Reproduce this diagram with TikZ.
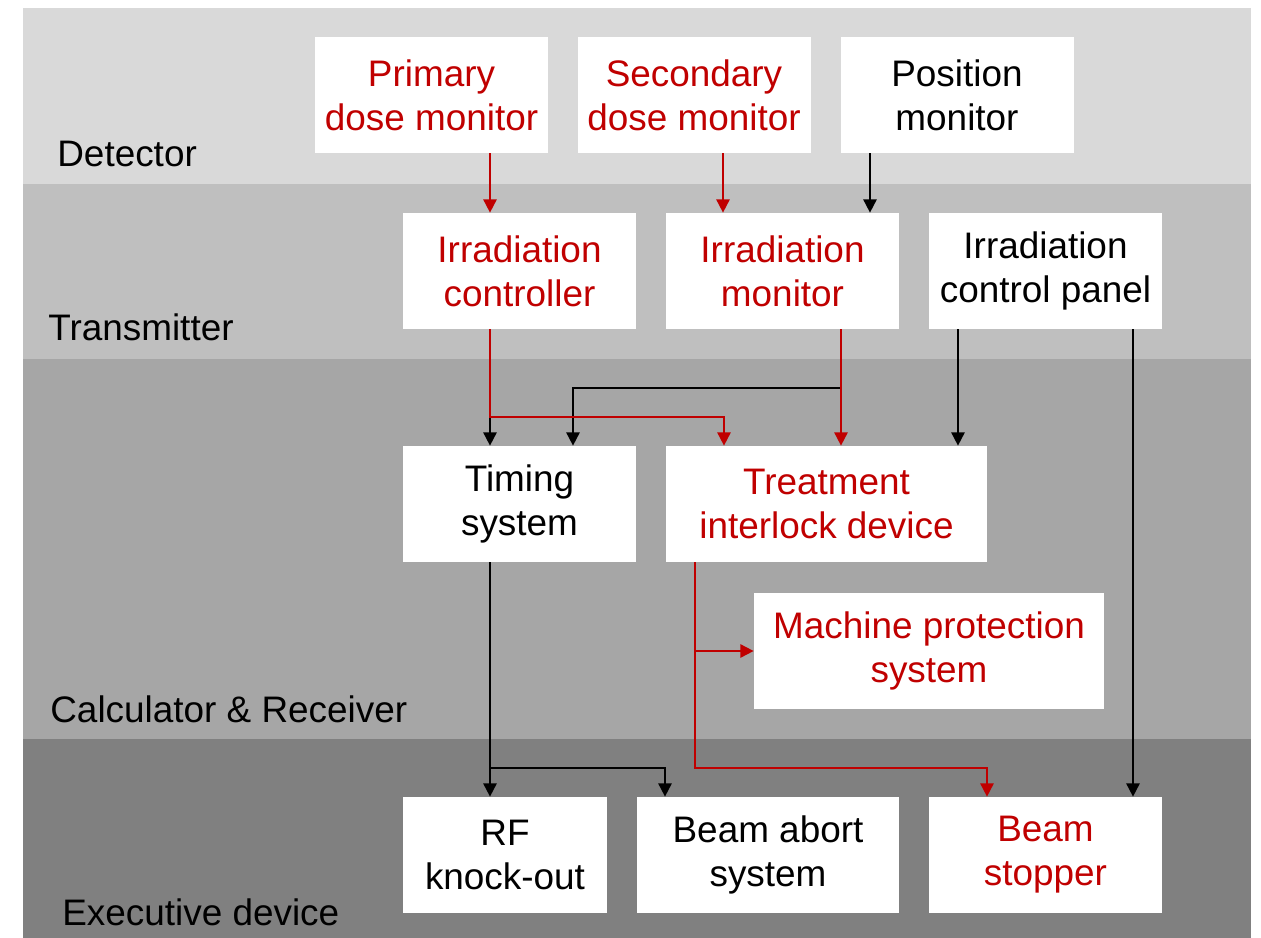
\documentclass[tikz,border=0pt]{standalone}
\usepackage{fontspec}
\setmainfont{Liberation Sans}
\usetikzlibrary{arrows.meta}

\definecolor{sigred}{RGB}{192, 0, 0}
\definecolor{bandone}{RGB}{217, 217, 217}
\definecolor{bandtwo}{RGB}{191, 191, 191}
\definecolor{bandthree}{RGB}{166, 166, 166}
\definecolor{bandfour}{RGB}{128, 128, 128}

\begin{document}
\begin{tikzpicture}[
  every node/.style={font=\fontsize{21}{25}\selectfont},
  box/.style={fill=white, minimum width=4.66cm, minimum height=2.32cm, inner sep=0pt, align=center},
  redbox/.style={box, text=sigred},
  layer/.style={anchor=base west, inner sep=0pt},
  flow/.style={-{Triangle[width=7.5pt,length=7.5pt]}, line width=1pt},
  redflow/.style={flow, draw=sigred}]
  \useasboundingbox (0,0) rectangle (25.22,-18.76);

  % layers
  \fill[bandone] (0.46,-0.16) rectangle (25.02,-3.68);
  \fill[bandtwo] (0.46,-3.68) rectangle (25.02,-7.18);
  \fill[bandthree] (0.46,-7.18) rectangle (25.02,-14.78);
  \fill[bandfour] (0.46,-14.78) rectangle (25.02,-18.76);
  \node[layer] (ldet) at (1.14,-3.32) {Detector};
  \node[layer] (ltra) at (0.96,-6.80) {Transmitter};
  \node[layer] (lcal) at (1.00,-14.44) {Calculator \& Receiver};
  \node[layer] (lexe) at (1.24,-18.50) {Executive device};

  % blocks
  \node[redbox] (pdm) at (8.63,-1.90) {Primary\\dose monitor};
  \node[redbox] (sdm) at (13.88,-1.90) {Secondary\\dose monitor};
  \node[box] (pos) at (19.14,-1.90) {Position\\monitor};
  \node[redbox] (irc) at (10.39,-5.42) {Irradiation\\controller};
  \node[redbox] (irm) at (15.65,-5.42) {Irradiation\\monitor};
  \node[box] (icp) at (20.91,-5.42) {Irradiation\\control panel};
  \node[box] (tim) at (10.39,-10.08) {Timing\\system};
  \node[redbox, minimum width=6.42cm] (tid) at (16.53,-10.08) {Treatment\\interlock device};
  \node[redbox, minimum width=7.00cm] (mps) at (18.58,-13.02) {Machine protection\\system};
  \node[box, minimum width=4.08cm] (rfk) at (10.10,-17.10) {RF\\knock-out};
  \node[box, minimum width=5.24cm] (bas) at (15.36,-17.10) {Beam abort\\system};
  \node[redbox] (bst) at (20.91,-17.10) {Beam\\stopper};

  % detector -> transmitter
  \draw[redflow] ([xshift=1.17cm]pdm.south) -- ([xshift=1.17cm]pdm.south |- irc.north);
  \draw[redflow] ([xshift=0.58cm]sdm.south) -- ([xshift=0.58cm]sdm.south |- irm.north);
  \draw[flow] ([xshift=-1.74cm]pos.south) -- ([xshift=-1.74cm]pos.south |- irm.north);

  % transmitter -> calculator
  \draw[flow] ([xshift=-0.59cm]irc.south) -- ([xshift=-0.59cm]irc.south |- tim.north);
  \draw[flow] ([xshift=1.17cm]irm.south) -- ++(0,-1.18) -| ([xshift=1.07cm]tim.north);
  \draw[redflow] ([xshift=-0.59cm]irc.south) -- ++(0,-1.76) -| ([xshift=-2.05cm]tid.north);
  \draw[redflow] ([xshift=1.17cm]irm.south) -- ([xshift=1.17cm]irm.south |- tid.north);
  \draw[flow] ([xshift=-1.75cm]icp.south) -- ([xshift=-1.75cm]icp.south |- tid.north);
  \draw[flow] ([xshift=1.75cm]icp.south) -- ([xshift=1.75cm]icp.south |- bst.north);

  % calculator -> executive
  \draw[flow] ([xshift=-0.59cm]tim.south) -- ([xshift=-0.59cm]tim.south |- rfk.north);
  \draw[flow] ([xshift=-0.59cm]tim.south) -- ++(0,-4.12) -| ([xshift=-2.06cm]bas.north);
  \draw[redflow] ([xshift=-2.63cm]tid.south) -- ++(0,-4.12) -| ([xshift=-1.17cm]bst.north);
  \draw[redflow] ([xshift=-1.18cm]mps.west) -- (mps.west);
\end{tikzpicture}
\end{document}
